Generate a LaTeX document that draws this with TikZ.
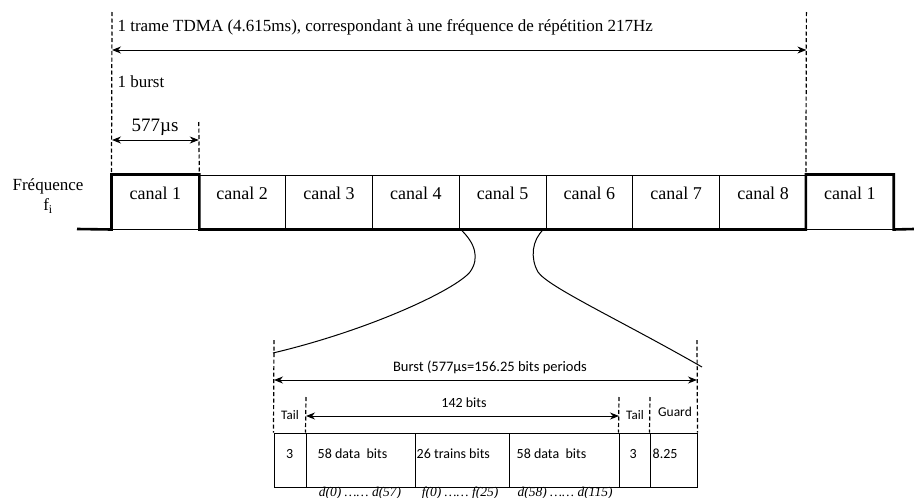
\documentclass[tikz,border=0pt]{standalone}
\usepackage{fontspec}
\setmainfont{Liberation Serif}
\newfontfamily\timesfont{Liberation Serif}
\newfontfamily\calibrifont{Carlito}
\usetikzlibrary{arrows.meta,calc}

\begin{document}
\begin{tikzpicture}[x=1pt,y=-1pt,>={Stealth[length=9pt,width=7pt]},
  sig/.style={line width=2.6pt,line join=miter},
  guide/.style={line width=1.2pt,dash pattern=on 4pt off 2.5pt},
  dim/.style={<->,line width=1pt},
  canal/.style={draw,line width=1pt,minimum width=86.8pt,minimum height=54pt,
    inner sep=0pt,text height=12pt,text depth=17pt,font=\timesfont\fontsize{18}{20}\selectfont},
  cell/.style={draw,line width=1pt,minimum height=54pt,inner sep=0pt},
  serif/.style={font=\timesfont\fontsize{17}{20}\selectfont},
  small/.style={font=\calibrifont\fontsize{14}{16}\selectfont},
  tiny/.style={font=\calibrifont\fontsize{13}{15}\selectfont},
  idx/.style={font=\timesfont\itshape\fontsize{13.5}{16}\selectfont}]
  \useasboundingbox (0,0) rectangle (914,498);

  \foreach \i/\t in {1/canal 1,2/canal 2,3/canal 3,4/canal 4,5/canal 5,
      6/canal 6,7/canal 7,8/canal 8,9/canal 1}
    \node[canal] (c\i) at ({155.4+(\i-1)*86.8},202) {\t};
  \coordinate (sigL) at (77,229);
  \coordinate (sigR) at (914,229);
  \draw[sig] (sigL) -- (c1.south west) -- (c1.north west) -- (c1.north east)
    -- (c1.south east) -- (c9.south west) -- (c9.north west) -- (c9.north east)
    -- (c9.south east) -- (sigR);
  \node[serif,align=center] (freq) at (48,196) {Fréquence\\f\textsubscript{i}};

  \coordinate (t0) at (112,12);
  \coordinate (t1) at (806.4,12);
  \coordinate (b0) at (198.8,122);
  \draw[guide] (t0) -- (c1.north west);
  \draw[guide] (t1) -- (c9.north west);
  \draw[guide] (b0) -- (c1.north east);
  \node[serif,anchor=west] (title) at (114,27)
    {1 trame TDMA (4.615ms), correspondant à une fréquence de répétition 217Hz};
  \draw[dim] ($(t0)+(0,38)$) -- ($(t1)+(0,38)$);
  \node[serif,anchor=west] (burst) at (114,82) {1 burst};
  \node[font=\timesfont\fontsize{19}{22}\selectfont] (dur) at (155,127) {577µs};
  \draw[dim] ($(t0)+(0,128)$) -- ($(b0)+(0,18)$);

  \foreach \n/\a/\b/\p/\t in {f1/274/306/12.5/3, f2/306/415/12/58 data\ \ bits,
      f3/415/509/2/26 trains bits, f4/509/619/8/58 data\ \ bits,
      f5/619/650/11/3, f6/650/697/3/8.25} {
    \node[cell,minimum width=\b-\a] (\n) at ({(\a+\b)/2},460) {};
    \node[small,anchor=west,inner sep=0pt] (\n t) at ([xshift=\p pt,yshift=6pt]\n.west) {\t};
  }
  \coordinate (g1) at (274,340);
  \coordinate (g2) at (306,397);
  \coordinate (g4) at (619,397);
  \coordinate (g5) at (650,397);
  \coordinate (g6) at (697,340);
  \draw[guide] (g1) -- (f1.north west);
  \draw[guide] (g2) -- (f2.north west);
  \draw[guide] (g4) -- (f5.north west);
  \draw[guide] (g5) -- (f6.north west);
  \draw[guide] (g6) -- (f6.north east);
  \draw[dim] ($(g1)+(0,40)$) -- ($(g6)+(0,40)$);
  \node[small,font=\calibrifont\fontsize{14.5}{16}\selectfont] (period) at (490,367)
    {Burst (577µs=156.25 bits periods};
  \draw[dim] ($(g2)+(0,19)$) -- ($(g4)+(0,19)$);
  \node[small] (nbits) at (464,403) {142 bits};
  \node[tiny] (tailL) at (290,415) {Tail};
  \node[tiny] (tailR) at (635,415) {Tail};
  \node[tiny,font=\calibrifont\fontsize{13.5}{15}\selectfont] (guard) at (675,412) {Guard};

  \draw[line width=1pt] ([xshift=2pt]c5.south west)
    .. controls (475,243) and (480,258) .. (470,272)
    .. controls (455,290) and (370,330) .. (273,353);
  \draw[line width=1pt] ([xshift=-3pt]c5.south east)
    .. controls (532,240) and (530,258) .. (538,272)
    .. controls (548,287) and (620,320) .. (702,367);

  \node[idx] (d1) at (360,493) {d(0) …… d(57)};
  \node[idx] (d2) at (460,493) {f(0) …… f(25)};
  \node[idx] (d3) at (565,493) {d(58) …… d(115)};
\end{tikzpicture}
\end{document}
